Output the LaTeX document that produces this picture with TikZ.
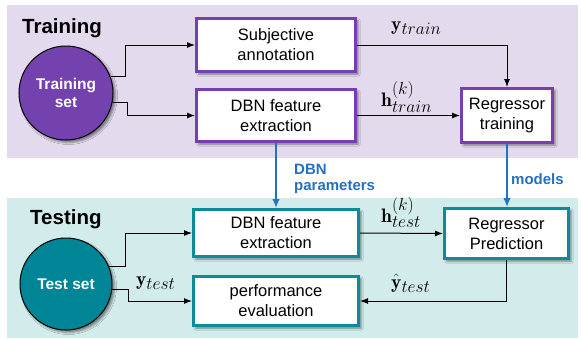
\RequirePackage{fix-cm}
\documentclass[tikz,border=0pt]{standalone}
\usepackage{fontspec}
\setsansfont{Liberation Sans}
\DeclareMathSizes{19.5}{19.5}{17.5}{14}
\usetikzlibrary{arrows.meta,shadows.blur,calc}
\definecolor{trbg}{RGB}{227,218,238}
\definecolor{tebg}{RGB}{210,236,236}
\definecolor{purp}{RGB}{118,62,178}
\definecolor{purpfill}{RGB}{115,66,175}
\definecolor{tealb}{RGB}{12,140,152}
\definecolor{tealfill}{RGB}{0,133,150}
\definecolor{arrblue}{RGB}{38,112,192}
\tikzset{
  boxsh/.style={blur shadow={shadow xshift=2.5pt, shadow yshift=-2.5pt, shadow blur radius=2pt, shadow opacity=45}},
  box/.style={draw, line width=2.6pt, fill=white, font=\sffamily\fontsize{16.5}{20}\selectfont, align=center, inner sep=0, boxsh},
  trbox/.style={box, draw=purp},
  tebox/.style={box, draw=tealb},
  setnode/.style={circle, draw=black, line width=1pt, text=white, font=\sffamily\bfseries\fontsize{15.5}{18}\selectfont, align=center, inner sep=0, boxsh},
  arr/.style={-{Latex[length=8pt,width=6pt]}, line width=1pt},
  barr/.style={-{Latex[length=9pt,width=7.5pt]}, line width=2pt, draw=arrblue, fill=arrblue},
  mlab/.style={font=\fontsize{19.5}{22}\selectfont, inner sep=0, anchor=base west},
  ttl/.style={font=\sffamily\bfseries\fontsize{20.5}{24}\selectfont, inner sep=0, anchor=base west},
  blab/.style={font=\sffamily\bfseries\fontsize{15}{15.5}\selectfont, text=arrblue, inner sep=0, align=left}
}
\begin{document}
\begin{tikzpicture}[x=1pt,y=-1pt]
\useasboundingbox (0,0) rectangle (581,338);
% backgrounds
\fill[trbg] (7,5) rectangle (578,158);
\fill[tebg] (7,198) rectangle (578,338);
% titles
\node[ttl] (ttrain) at (22,33) {Training};
\node[ttl] (ttest) at (30,224) {Testing};
% training
\node[setnode, fill=purpfill, minimum size=94pt] (tc) at (66,93) {Training\\set};
\node[trbox, minimum width=159.4pt, minimum height=53.4pt] (sa) at (276,45) {Subjective\\annotation};
\node[trbox, minimum width=159.4pt, minimum height=52.4pt] (dbn1) at (276,115.5) {DBN feature\\extraction};
\node[trbox, minimum width=91.4pt, minimum height=54.4pt] (rt) at (507,115.5) {Regressor\\training};
% testing
\node[setnode, fill=tealfill, minimum size=92pt] (ts) at (66,284) {Test set};
\node[tebox, minimum width=165.4pt, minimum height=47.4pt] (dbn2) at (276,233) {DBN feature\\extraction};
\node[tebox, minimum width=165.4pt, minimum height=49.4pt] (pe) at (276,301) {performance\\evaluation};
\node[tebox, minimum width=124.4pt, minimum height=50.4pt] (rp) at (506.5,233.5) {Regressor\\Prediction};
% connectors
\draw[arr] (tc.20) -- ++(15,0) |- (sa.west);
\draw[arr] (tc.-11) -- ++(15,0) |- (dbn1.west);
\draw[arr] (sa.east) -| (rt.north);
\draw[arr] (dbn1.east) -- (rt.west);
\draw[barr] (dbn1.south) -- (dbn2.north);
\draw[barr] (rt.south) -- (rt.south |- rp.north);
\draw[arr] (ts.22) -- ++(16,0) |- (dbn2.west);
\draw[arr] (ts.-7) -- ++(16,0) |- (pe.west);
\draw[arr] (dbn2.east) -- (rp.west);
\draw[arr] (rp.south) |- (pe.east);
% labels
\node[mlab] (ly1) at (391,30) {$\mathbf{y}_{train}$};
\node[mlab] (lh1) at (381,106) {$\mathbf{h}^{(k)}_{train}$};
\node[mlab] (lh2) at (381,222) {$\mathbf{h}^{(k)}_{test}$};
\node[mlab] (lyh) at (391,288) {$\hat{\mathbf{y}}_{test}$};
\node[mlab] (lyt) at (136,285) {$\mathbf{y}_{test}$};
\node[blab, anchor=north west] (ldbn) at (294,164) {DBN\\parameters};
\node[blab, anchor=base west] (lmod) at (511,184) {models};
\end{tikzpicture}
\end{document}
